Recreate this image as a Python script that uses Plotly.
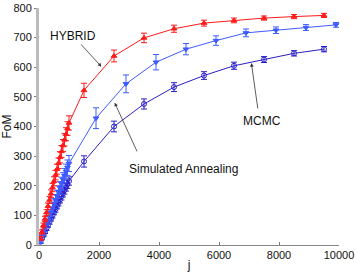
import plotly.graph_objects as go

# ---- data ----
j_early = [50, 100, 150, 200, 250, 300, 350, 400, 450, 500,
           550, 600, 650, 700, 750, 800, 850, 900, 950, 1000]

hyb_j = j_early + [1500, 2500, 3500, 4500, 5500, 6500, 7500, 8500, 9500]
hyb_v = [22, 44, 66, 88, 109, 131, 152, 173, 194, 215,
         236, 256, 276, 296, 316, 336, 355, 374, 393, 412,
         522, 638, 699, 730, 749, 758, 766, 771, 775]
hyb_e = [6, 7, 8, 9, 10, 11, 12, 13, 14, 15,
         16, 17, 18, 19, 20, 20, 21, 22, 23, 24,
         24, 20, 16, 12, 10, 8, 7, 7, 7]

sa_j = j_early + [1900, 2900, 3900, 4900, 5900, 6900, 7900, 8900, 9900]
sa_v = [14, 28, 42, 56, 70, 83, 97, 111, 125, 139,
        152, 166, 180, 193, 207, 221, 234, 248, 261, 275,
        428, 544, 617, 661, 690, 716, 725, 734, 743]
sa_e = [8, 9, 10, 11, 12, 13, 14, 15, 16, 17,
        18, 19, 20, 21, 22, 23, 24, 25, 26, 27,
        35, 30, 26, 19, 16, 13, 11, 10, 8]

mc_j = j_early + [1500, 2500, 3500, 4500, 5500, 6500, 7500, 8500, 9500]
mc_v = [11, 23, 34, 45, 56, 67, 78, 89, 100, 111,
        121, 132, 143, 153, 164, 174, 185, 195, 205, 216,
        282, 400, 476, 533, 572, 605, 626, 647, 661]
mc_e = [5, 5, 6, 6, 7, 7, 8, 8, 9, 9,
        10, 10, 11, 11, 12, 12, 13, 13, 14, 14,
        19, 18, 17, 15, 13, 12, 10, 9, 9]

x_ticks = [0, 2000, 4000, 6000, 8000, 10000]
x_labels = ["0", "2000", "4000", "6000", "8000", "10000"]
y_ticks = [0, 100, 200, 300, 400, 500, 600, 700, 800]

RED = "#ff1a1a"
LBLUE = "#3d5cff"
DBLUE = "#2a1fc8"

fig = go.Figure()

def add(xs, ys, es, color, symbol):
    fig.add_trace(go.Scatter(
        x=xs, y=ys, mode="lines+markers",
        line=dict(color=color, width=1),
        marker=dict(color=color, symbol=symbol, size=5,
                    line=dict(color=color, width=1)),
        error_y=dict(type="data", array=es, color=color,
                     thickness=1, width=3),
        showlegend=False, cliponaxis=False))

add(mc_j, mc_v, mc_e, DBLUE, "circle-open")
add(sa_j, sa_v, sa_e, LBLUE, "triangle-down")
add(hyb_j, hyb_v, hyb_e, RED, "triangle-up")

FAM = "Liberation Sans, Arial, sans-serif"
font = dict(family=FAM, size=12, color="#111")

# labels
for txt, x, y in [("HYBRID", 1140, 706),
                  ("Simulated Annealing", 4800, 256),
                  ("MCMC", 7440, 420)]:
    fig.add_annotation(x=x, y=y, text=txt, showarrow=False, font=font)

# arrows (head, tail)
for hx, hy, tx, ty in [(2080, 602, 1357, 682),
                       (2523, 480, 3290, 311),
                       (7080, 614, 7300, 456)]:
    fig.add_annotation(x=hx, y=hy, ax=tx, ay=ty, axref="x", ayref="y",
                       text="", showarrow=True, arrowhead=2, arrowsize=0.9,
                       arrowwidth=0.8, arrowcolor="#333")

fig.update_xaxes(range=[0, 10000], tickvals=x_ticks, ticktext=x_labels,
                 ticks="inside", ticklen=3, tickcolor="#777",
                 showline=True, linecolor="#888", linewidth=1,
                 showgrid=False, zeroline=False, automargin=False,
                 tickfont=dict(family=FAM, size=11, color="#111"),
                 title=dict(text="j", font=font, standoff=0))
fig.update_yaxes(range=[0, 800], tickvals=y_ticks,
                 ticks="outside", ticklen=2, tickcolor="#777",
                 showline=True, linecolor="#bbb", linewidth=3,
                 showgrid=False, zeroline=False, automargin=False,
                 tickfont=dict(family=FAM, size=11, color="#111"),
                 title=dict(text="FoM", font=font, standoff=2))

fig.update_layout(width=357, height=274,
                  margin=dict(l=39, r=18, t=8, b=29),
                  plot_bgcolor="white", paper_bgcolor="white")

fig.write_html("out.html", config={"displayModeBar": False},
               post_script="document.body.style.margin='0';document.body.style.overflow='hidden';")
